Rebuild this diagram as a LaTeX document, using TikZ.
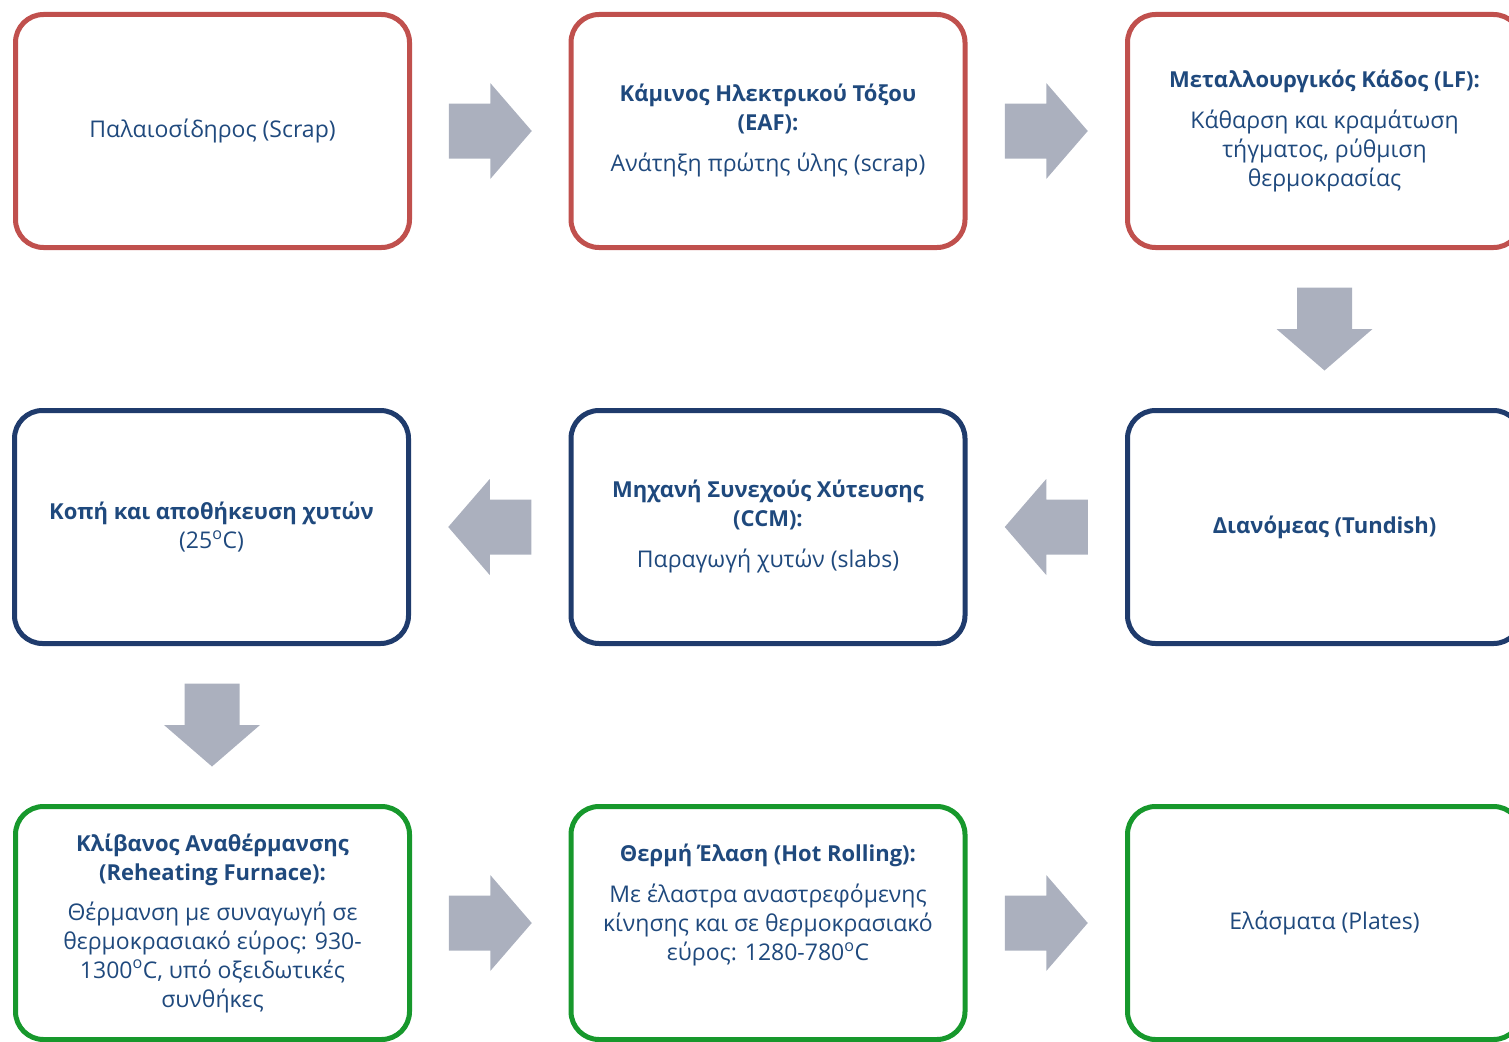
\documentclass[tikz,border=0pt]{standalone}
\usepackage{fontspec}
\setmainfont{Open Sans}
\usetikzlibrary{calc}
\definecolor{redb}{HTML}{C0504D}
\definecolor{blueb}{HTML}{1F3B6C}
\definecolor{greenb}{HTML}{17982C}
\definecolor{txt}{HTML}{1F497D}
\definecolor{arrowgray}{HTML}{ABB0BE}
\newcommand\hdg[1]{{\fontsize{22}{29}\selectfont\bfseries #1}}
\tikzset{
  box/.style={draw, line width=5pt, rounded corners=28pt, minimum width=394pt, minimum height=233pt,
    align=center, text=txt, font=\fontsize{23}{29}\selectfont, inner sep=0pt},
  redbox/.style={box, draw=redb},
  bluebox/.style={box, draw=blueb},
  greenbox/.style={box, draw=greenb},
  blockarrow/.pic={\fill[arrowgray] (-41.5,-27.5) -- (0,-27.5) -- (0,-48) -- (41.5,0) -- (0,48) -- (0,27.5) -- (-41.5,27.5) -- cycle;}
}
\begin{document}
\begin{tikzpicture}[x=1pt,y=-1pt]
\useasboundingbox (0,0) rectangle (1509,1041);
\clip (0,0) rectangle (1509,1041);
% row 1
\node[redbox] (scrap) at (212.5,131) {Παλαιοσίδηρος (Scrap)};
\node[redbox] (eaf) at (768,131) {\hdg{Κάμινος Ηλεκτρικού Τόξου}\\\hdg{(EAF):}\\[12pt]Ανάτηξη πρώτης ύλης (scrap)};
\node[redbox] (lf) at (1324.5,131) {\hdg{Μεταλλουργικός Κάδος (LF):}\\[12pt]Κάθαρση και κραμάτωση\\τήγματος, ρύθμιση\\θερμοκρασίας};
% row 2
\node[bluebox] (cut) at (211.5,527) {\hdg{Κοπή και αποθήκευση χυτών}\\(25\textsuperscript{o}C)};
\node[bluebox] (ccm) at (768,527) {\hdg{Μηχανή Συνεχούς Χύτευσης}\\\hdg{(CCM):}\\[12pt]Παραγωγή χυτών (slabs)};
\node[bluebox] (tun) at (1324.5,527) {\hdg{Διανόμεας (Tundish)}};
% row 3
\node[greenbox] (reh) at (212.5,923) {\hdg{Κλίβανος Αναθέρμανσης}\\\hdg{(Reheating Furnace):}\\[11pt]Θέρμανση με συναγωγή σε\\θερμοκρασιακό εύρος: 930-\\1300\textsuperscript{o}C, υπό οξειδωτικές\\συνθήκες};
\node[greenbox] (hot) at (768,923) {\hdg{Θερμή Έλαση (Hot Rolling):}\\[12pt]Με έλαστρα αναστρεφόμενης\\κίνησης και σε θερμοκρασιακό\\εύρος: 1280-780\textsuperscript{o}C\\[12pt]\mbox{}};
\node[greenbox] (pl) at (1324.5,923) {Ελάσματα (Plates)};
% block arrows
\pic at ($(scrap.east)!0.5!(eaf.west)$) {blockarrow};
\pic at ($(eaf.east)!0.5!(lf.west)$) {blockarrow};
\pic[rotate=-90] at ($(lf.south)!0.5!(tun.north)$) {blockarrow};
\pic[rotate=180] at ($(tun.west)!0.5!(ccm.east)$) {blockarrow};
\pic[rotate=180] at ($(ccm.west)!0.5!(cut.east)$) {blockarrow};
\pic[rotate=-90] at ($(cut.south)!0.5!(reh.north)$) {blockarrow};
\pic at ($(reh.east)!0.5!(hot.west)$) {blockarrow};
\pic at ($(hot.east)!0.5!(pl.west)$) {blockarrow};
\end{tikzpicture}
\end{document}
